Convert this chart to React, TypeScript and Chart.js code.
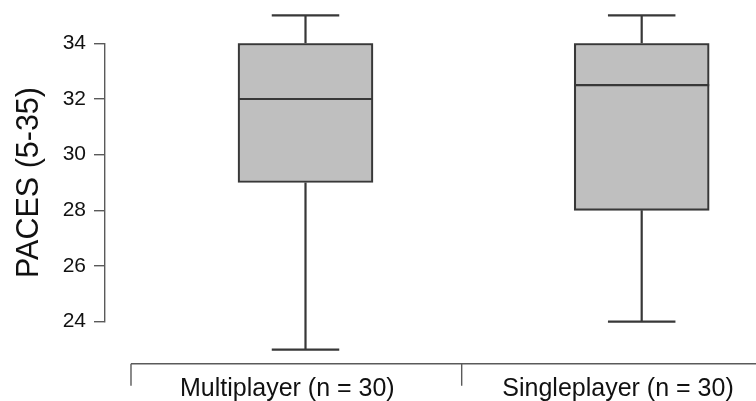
import React, { useEffect, useRef } from 'react';
import { Chart, registerables } from 'chart.js';

Chart.register(...registerables);

// ---- data ----
const categories = ['Multiplayer (n = 30)', 'Singleplayer (n = 30)'];
const whiskerMin = [23, 24];
const quartile1 = [29, 28];
const medians = [32, 32.5];
const quartile3 = [34, 34];
const whiskerMax = [35, 35];
const yTickValues = [24, 26, 28, 30, 32, 34];
const yAxisTitle = 'PACES (5-35)';

// ---- styles ----
const FONT = "'Liberation Sans', Arial, Helvetica, sans-serif";
const BOX_LINE = '#383838';
const BOX_FILL = '#bfbfbf';
const AXIS_LINE = '#5a5a5a';
const TEXT = '#111111';
const BOX_WIDTH = 135;
const LABEL_DX = -9;

const boxExtras = {
  id: 'boxExtras',
  afterDatasetsDraw(chart: any) {
    const { ctx } = chart;
    const x = chart.scales.x;
    const y = chart.scales.y;
    ctx.save();
    ctx.strokeStyle = BOX_LINE;
    ctx.lineWidth = 2.2;
    ctx.lineCap = 'butt';
    categories.forEach((_, i) => {
      const cx = x.getPixelForValue(i + 1);
      const half = BOX_WIDTH / 2;
      const capHalf = BOX_WIDTH / 4;
      const pMin = y.getPixelForValue(whiskerMin[i]);
      const pQ1 = y.getPixelForValue(quartile1[i]);
      const pMed = y.getPixelForValue(medians[i]);
      const pQ3 = y.getPixelForValue(quartile3[i]);
      const pMax = y.getPixelForValue(whiskerMax[i]);
      ctx.beginPath();
      ctx.moveTo(cx, pQ3);
      ctx.lineTo(cx, pMax);
      ctx.moveTo(cx - capHalf, pMax);
      ctx.lineTo(cx + capHalf, pMax);
      ctx.moveTo(cx, pQ1);
      ctx.lineTo(cx, pMin);
      ctx.moveTo(cx - capHalf, pMin);
      ctx.lineTo(cx + capHalf, pMin);
      ctx.moveTo(cx - half, pMed);
      ctx.lineTo(cx + half, pMed);
      ctx.stroke();
    });
    ctx.restore();
  },
};

const bottomAxis = {
  id: 'bottomAxis',
  afterDraw(chart: any) {
    const { ctx, chartArea } = chart;
    const xb = chart.scales.xb;
    const axisY = chartArea.bottom + 42;
    ctx.save();
    ctx.strokeStyle = AXIS_LINE;
    ctx.lineWidth = 1.4;
    ctx.beginPath();
    const start = xb.getPixelForValue(0.5);
    ctx.moveTo(start, axisY);
    ctx.lineTo(chart.width, axisY);
    categories.forEach((_, i) => {
      const bx = xb.getPixelForValue(i + 0.5);
      ctx.moveTo(bx, axisY);
      ctx.lineTo(bx, axisY + 22);
    });
    ctx.stroke();
    ctx.fillStyle = TEXT;
    ctx.font = `25px ${FONT}`;
    ctx.textAlign = 'center';
    ctx.textBaseline = 'alphabetic';
    categories.forEach((label, i) => {
      ctx.fillText(label, xb.getPixelForValue(i + 1) + LABEL_DX, axisY + 32);
    });
    ctx.restore();
  },
};

export default function App() {
  const canvasRef = useRef<HTMLCanvasElement | null>(null);

  useEffect(() => {
    document.body.style.margin = '0';
    const canvas = canvasRef.current;
    if (!canvas) return;
    Chart.defaults.font.family = FONT;
    const chart = new Chart(canvas, {
      type: 'bar',
      data: {
        datasets: [
          {
            data: categories.map((_, i) => ({ x: i + 1, y: [quartile1[i], quartile3[i]] })) as any,
            backgroundColor: BOX_FILL,
            borderColor: BOX_LINE,
            borderWidth: 2.2,
            borderSkipped: false,
            barThickness: BOX_WIDTH,
          },
        ],
      },
      options: {
        animation: false,
        responsive: false,
        devicePixelRatio: 1,
        layout: { padding: { top: 43.3, bottom: 79.3, left: 0, right: 0 } },
        plugins: { legend: { display: false }, tooltip: { enabled: false } },
        scales: {
          x: {
            type: 'linear',
            display: false,
            offset: false,
            min: 0.4036,
            max: 2.34,
            ticks: { display: false },
            grid: { display: false, offset: false },
            border: { display: false },
          },
          xb: {
            type: 'linear',
            display: false,
            offset: false,
            min: 0.4214,
            max: 2.39,
            ticks: { display: false },
            grid: { display: false, offset: false },
            border: { display: false },
          },
          y: {
            type: 'linear',
            min: yTickValues[0],
            max: yTickValues[yTickValues.length - 1],
            afterBuildTicks: (scale: any) => {
              scale.ticks = yTickValues.map((v) => ({ value: v }));
            },
            afterFit: (scale: any) => {
              scale.width = 105;
            },
            ticks: {
              font: { size: 21 },
              color: TEXT,
              padding: 8,
            },
            grid: {
              display: true,
              drawOnChartArea: false,
              drawTicks: true,
              tickLength: 11,
              color: AXIS_LINE,
              lineWidth: 1.4,
            },
            border: { display: true, color: AXIS_LINE, width: 1.4 },
            title: {
              display: true,
              text: yAxisTitle,
              font: { size: 30.5 },
              color: TEXT,
              padding: { top: 11, bottom: 0 },
            },
          },
        },
      } as any,
      plugins: [boxExtras, bottomAxis],
    });
    return () => chart.destroy();
  }, []);

  return (
    <div style={{ position: 'absolute', left: 0, top: 0, width: 756, height: 401 }}>
      <canvas ref={canvasRef} width={756} height={401} />
    </div>
  );
}
